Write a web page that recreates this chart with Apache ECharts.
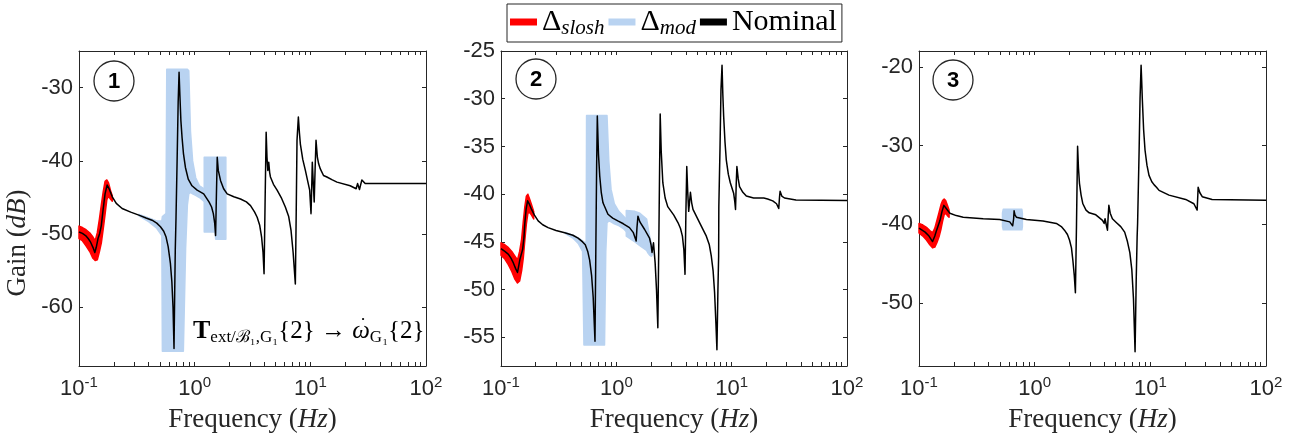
<!DOCTYPE html>
<html><head><meta charset="utf-8">
<script src="https://cdn.jsdelivr.net/npm/echarts@6/dist/echarts.min.js"></script>
<style>html,body{margin:0;padding:0;background:#fff}#c{width:1304px;height:439px}</style>
</head><body><div id="c"></div><script>
// ---------- tick labels ----------
const xTickLabels = [0.1, 1, 10, 100];
const xTicks = [0.1,0.2,0.3,0.4,0.5,0.6,0.7,0.8,0.9,1,2,3,4,5,6,7,8,9,10,20,30,40,50,60,70,80,90,100];
const yTicks1 = [-60, -50, -40, -30];
const yTicks2 = [-55, -50, -45, -40, -35, -30, -25];
const yTicks3 = [-50, -40, -30, -20];
const yRange1 = [-68, -25];
const yRange2 = [-58, -25];
const yRange3 = [-58, -18];

// ---------- panel 1 ----------
const nomF1 = [0.1,0.107,0.114,0.12,0.126,0.132,0.137,0.141,0.146,0.151,0.156,0.162,0.168,0.175,0.182,0.194,0.21,0.236,0.28,0.329,0.38,0.428,0.47,0.506,0.54,0.566,0.59,0.617,0.635,0.65,0.663,0.672,0.68,0.69,0.705,0.72,0.733,0.745,0.76,0.778,0.8,0.832,0.88,0.948,1.05,1.197,1.33,1.4,1.45,1.49,1.517,1.54,1.567,1.6,1.675,1.78,1.91,2.18,2.49,2.8,3.04,3.3,3.47,3.65,3.79,3.9,3.98,4.06,4.15,4.22,4.29,4.37,4.45,4.52,4.8,5.16,5.6,6.08,6.5,6.81,7.1,7.42,7.55,7.67,7.88,8.05,8.2,8.6,9.06,9.5,9.87,10.14,10.3,10.4,10.6,10.8,11.0,11.2,11.5,11.8,12.2,13.0,13.9,15.5,17.0,22.1,24.9,25.6,26.6,27.9,29.8,37.6,100];
const nomG1 = [-49.7,-49.9,-50.2,-50.6,-51.1,-51.8,-52.5,-51.8,-50.6,-49.9,-48.8,-46.5,-44.5,-43.3,-43.8,-44.9,-45.8,-46.5,-47.0,-47.4,-47.8,-48.1,-48.5,-49.0,-49.6,-50.4,-51.7,-54,-56.5,-60,-65.6,-58,-52,-47.7,-40,-32,-27.9,-31,-34.5,-36.8,-39.0,-40.9,-42.5,-43.4,-44.0,-44.5,-45.6,-46.3,-47.2,-48.5,-50.2,-45,-39.5,-41.3,-42.7,-43.8,-44.5,-44.9,-45.2,-45.6,-46.1,-47.0,-47.7,-48.8,-50.4,-52.5,-55.4,-46,-36.1,-39.5,-41.3,-40.2,-41.6,-42.2,-43.2,-44.0,-45.0,-46.3,-47.6,-49.5,-52.5,-56.8,-47,-37.2,-34.0,-36.2,-37.7,-39.8,-41.3,-42.8,-44.0,-47.2,-43,-40.2,-43,-45.6,-41,-37.2,-39.5,-40.4,-41.1,-42.0,-42.2,-42.6,-42.9,-43.4,-43.8,-43.1,-43.9,-42.6,-43.1,-43.1,-43.1];
const modF1a = [0.33,0.40,0.47,0.52,0.526,0.565,0.574,0.798,0.835,0.865,0.889,0.92,0.96,1.02,1.1,1.2,1.24];
const modHi1a = [-47.3,-47.8,-48.2,-48.2,-47.6,-47.2,-27.5,-27.5,-27.5,-27.5,-27.7,-36,-40,-42.3,-43.4,-43.8,-44];
const modLo1a = [-47.5,-48.3,-49.2,-50.2,-66,-66,-66,-66,-52,-46,-44.5,-44.3,-44.5,-44.7,-45,-45.5,-45.6];
const modF1b = [1.21,1.5,1.52,1.86];
const modHi1b = [-39.5,-39.5,-39.5,-39.5];
const modLo1b = [-49.7,-49.7,-50.7,-50.7];
const sloshF1 = [0.1,0.107,0.115,0.125,0.132,0.138,0.144,0.15,0.156,0.162,0.168,0.174,0.18,0.187,0.194];
const sloshHi1 = [-48.9,-49.1,-49.4,-49.9,-50.4,-50.9,-49.8,-48.0,-46.0,-44.2,-42.8,-42.6,-43.0,-44.0,-44.8];
const sloshLo1 = [-50.6,-50.9,-51.6,-52.5,-53.3,-53.6,-53.5,-52.4,-51.2,-49.3,-47.3,-45.3,-44.8,-45.2,-45.5];

// ---------- panel 2 ----------
const nomF2 = [0.1,0.108,0.116,0.122,0.128,0.134,0.139,0.143,0.146,0.154,0.158,0.161,0.165,0.17,0.177,0.184,0.195,0.21,0.23,0.256,0.3,0.357,0.42,0.466,0.51,0.538,0.565,0.587,0.61,0.63,0.653,0.665,0.675,0.684,0.7,0.718,0.74,0.766,0.846,0.93,1.03,1.15,1.30,1.4,1.486,1.51,1.54,1.6,1.76,1.94,2.0,2.04,2.10,2.17,2.23,2.29,2.35,2.40,2.45,2.53,2.65,2.79,2.90,3.15,3.43,3.6,3.74,3.85,3.94,4.01,4.08,4.16,4.24,4.39,4.5,4.62,5.28,6.03,6.4,6.66,6.9,7.11,7.3,7.45,7.6,7.71,7.74,7.82,7.92,8.08,8.25,8.38,8.52,8.75,8.98,9.35,9.73,10.4,10.65,10.8,10.95,11.1,11.4,11.7,12.5,13.4,15.5,19.0,19.5,20.5,22.7,24.5,25.6,26.0,26.3,27.2,28.7,36.1,100];
const nomG2 = [-45.7,-46.0,-46.3,-46.7,-47.2,-47.8,-48.2,-47.4,-46.8,-45.8,-44.6,-43.0,-41.6,-40.7,-41.1,-41.6,-42.2,-42.8,-43.2,-43.5,-43.8,-44.05,-44.3,-44.6,-45.0,-45.3,-46.0,-46.9,-48.5,-50.8,-55.4,-45,-37,-31.8,-35.8,-38.1,-39.8,-40.9,-42.1,-42.5,-42.8,-43.1,-43.5,-44.0,-44.9,-43.5,-42.3,-42.9,-43.7,-44.6,-45.3,-46.1,-45.1,-47.2,-50,-54.0,-42,-31.6,-35.5,-38.8,-40.4,-41.3,-41.4,-42.2,-43.0,-43.6,-44.4,-45.8,-48.4,-42,-37.1,-39.8,-41.8,-39.8,-40.9,-41.6,-43.0,-44.4,-45.3,-46.5,-48.0,-50.3,-53.5,-56.3,-50,-46.5,-41.3,-41.3,-35.3,-29,-26.5,-29.5,-31.8,-34.5,-36.4,-37.9,-38.8,-39.9,-40.8,-41.6,-39,-37.1,-38.4,-39.2,-39.8,-40.2,-40.4,-40.4,-40.3,-40.5,-40.7,-41.0,-41.5,-40.3,-39.7,-40.2,-40.4,-40.6,-40.65];
const modF2a = [0.36,0.42,0.47,0.51,0.524,0.548,0.552,0.79,0.81,0.83,0.86,0.9,0.96,1.05,1.15,1.24];
const modHi2a = [-44.0,-44.3,-44.6,-44.9,-45.0,-45.1,-31.75,-31.75,-31.75,-31.75,-36.5,-39.5,-41.0,-41.8,-42.3,-42.7];
const modLo2a = [-44.1,-44.6,-45.2,-46.0,-55.8,-55.8,-55.8,-55.8,-46,-43,-42.8,-42.9,-43.1,-43.3,-43.6,-44.0];
const modF2b = [1.22,1.45,1.6,1.83,1.89,1.95,2.02,2.06];
const modHi2b = [-41.7,-41.8,-42.0,-42.6,-43.6,-44.5,-45.3,-45.8];
const modLo2b = [-44.4,-45.0,-45.4,-45.9,-46.2,-46.4,-46.5,-46.3];
const sloshF2 = [0.1,0.108,0.116,0.124,0.132,0.139,0.145,0.151,0.156,0.161,0.166,0.171,0.177,0.184,0.192];
const sloshHi2 = [-45.1,-45.3,-45.6,-46.0,-46.5,-46.9,-46.0,-44.7,-42.9,-41.3,-40.2,-40.0,-40.5,-41.1,-41.8];
const sloshLo2 = [-46.4,-46.8,-47.4,-48.1,-48.9,-49.3,-49.1,-48.0,-46.7,-44.8,-43.1,-42.0,-41.9,-42.2,-42.6];

// ---------- panel 3 ----------
const nomF3 = [0.1,0.113,0.122,0.131,0.137,0.142,0.152,0.158,0.164,0.172,0.185,0.21,0.241,0.359,0.499,0.609,0.645,0.651,0.658,0.664,0.675,0.695,0.848,1.18,1.54,1.7,1.81,1.92,2.0,2.08,2.14,2.2,2.25,2.3,2.35,2.39,2.44,2.52,2.61,2.78,2.96,3.38,3.86,3.99,4.06,4.15,4.26,4.32,4.38,4.5,4.70,5.1,5.55,6.0,6.34,6.65,6.92,7.15,7.38,7.55,7.69,7.76,8.0,8.15,8.32,8.42,8.53,8.75,9.0,9.35,9.74,10.3,10.8,11.0,11.3,11.9,14.5,20.2,23.8,25.4,25.7,25.9,26.8,28.1,34.2,100];
const nomG3 = [-40.5,-41.0,-41.5,-42.2,-41.5,-40.75,-39.5,-38.4,-37.6,-38.0,-38.6,-38.9,-39.1,-39.3,-39.4,-39.7,-40.2,-40.3,-39.3,-38.3,-38.8,-39.1,-39.4,-39.6,-39.9,-40.3,-40.75,-41.3,-42.0,-43.0,-44.6,-46.5,-48.7,-40,-30.1,-32.8,-34.8,-36.3,-37.4,-38.2,-38.55,-38.8,-39.5,-39.9,-39.3,-40.0,-40.75,-39,-37.6,-38.6,-39.3,-39.8,-40.3,-41.0,-42.2,-43.6,-45.8,-49.5,-56.2,-47,-41.6,-39.9,-30.6,-24,-19.8,-21.8,-24.2,-28,-30.6,-32.5,-33.8,-34.6,-35.0,-34.8,-35.3,-35.7,-36.3,-36.85,-37.4,-38.2,-36.5,-35.3,-36.0,-36.5,-36.85,-36.95];
const modF3 = [0.527,0.535,0.775,0.783];
const modHi3 = [-38.6,-38.1,-38.1,-38.6];
const modLo3 = [-40.3,-40.7,-40.7,-40.3];
const sloshF3 = [0.1,0.108,0.116,0.124,0.131,0.137,0.143,0.149,0.155,0.16,0.165,0.17,0.176,0.182];
const sloshHi3 = [-39.9,-40.1,-40.4,-40.8,-41.1,-40.5,-39.5,-38.5,-37.5,-37.0,-36.8,-37.0,-37.6,-38.2];
const sloshLo3 = [-41.1,-41.5,-42.0,-42.6,-43.0,-42.9,-42.3,-41.6,-40.6,-39.6,-38.8,-38.6,-38.9,-39.1];

// ---------- styling ----------
const SANS = '"Liberation Sans", Arial, Helvetica, sans-serif';
const SERIF = '"Liberation Serif", "DejaVu Serif", serif';
const AX = '#262626';
const RED = '#ff0000';
const BLUE = '#b9d3f1';
const grids = [
  {left: 79, top: 51, width: 347, height: 315},
  {left: 501, top: 51, width: 346, height: 315},
  {left: 919, top: 51, width: 347, height: 315}
];
const yRanges = [yRange1, yRange2, yRange3];
const yTicks = [yTicks1, yTicks2, yTicks3];

const xAxis = [], yAxis = [];
grids.forEach((g, i) => {
  const xb = {type: 'log', logBase: 10, min: 0.1, max: 100, gridIndex: i,
    splitLine: {show: false},
    axisLine: {show: true, onZero: false, lineStyle: {color: AX, width: 1}},
    axisTick: {show: true, inside: true, length: 4, customValues: xTicks, lineStyle: {color: AX, width: 1}}};
  xAxis.push(Object.assign({}, xb, {position: 'bottom',
    axisLabel: {show: true, customValues: xTickLabels, margin: 9, color: AX, fontFamily: SANS, fontSize: 22,
      formatter: v => '10{sup|' + Math.round(Math.log10(v)) + '}',
      rich: {sup: {fontSize: 15, fontFamily: SANS, color: AX, padding: [0, 0, 13, 0]}}},
    name: 'Frequency ({i|Hz})', nameLocation: 'middle', nameGap: 40,
    nameTextStyle: {fontFamily: SERIF, fontSize: 27, color: AX,
      rich: {i: {fontFamily: SERIF, fontSize: 27, fontStyle: 'italic', color: AX}}}}));
  xAxis.push(Object.assign({}, xb, {position: 'top', axisLabel: {show: false}}));
  const yb = {type: 'value', gridIndex: i, min: yRanges[i][0], max: yRanges[i][1],
    splitLine: {show: false},
    axisLine: {show: true, onZero: false, lineStyle: {color: AX, width: 1}},
    axisTick: {show: true, inside: true, length: 4, customValues: yTicks[i], lineStyle: {color: AX, width: 1}}};
  yAxis.push(Object.assign({}, yb, {position: 'left',
    axisLabel: {show: true, customValues: yTicks[i], margin: 6, color: AX, fontFamily: SANS, fontSize: 22}}));
  yAxis.push(Object.assign({}, yb, {position: 'right', axisLabel: {show: false}}));
});

function bandSeries(name, color, gi, F, Hi, Lo, z) {
  return {
    name, type: 'custom', xAxisIndex: 2 * gi, yAxisIndex: 2 * gi, z,
    itemStyle: {color}, silent: true,
    data: [[F[0], Hi[0]]],
    encode: {x: 0, y: 1},
    renderItem: (params, api) => {
      const pts = [];
      for (let k = 0; k < F.length; k++) pts.push(api.coord([F[k], Hi[k]]));
      for (let k = F.length - 1; k >= 0; k--) pts.push(api.coord([F[k], Lo[k]]));
      return {type: 'polygon', shape: {points: pts}, style: {fill: color, stroke: color, lineWidth: 1.5, lineJoin: 'round'}};
    }
  };
}
function nomSeries(gi, F, G) {
  return {name: 'Nominal', type: 'line', xAxisIndex: 2 * gi, yAxisIndex: 2 * gi, z: 5,
    showSymbol: false, symbol: 'none', silent: true, itemStyle: {color: '#000'},
    lineStyle: {color: '#000', width: 1.5, join: 'round'},
    data: F.map((f, k) => [f, G[k]])};
}

const series = [
  bandSeries('mod', BLUE, 0, modF1a, modHi1a, modLo1a, 2),
  bandSeries('mod', BLUE, 0, modF1b, modHi1b, modLo1b, 2),
  bandSeries('slosh', RED, 0, sloshF1, sloshHi1, sloshLo1, 3),
  nomSeries(0, nomF1, nomG1),
  bandSeries('mod', BLUE, 1, modF2a, modHi2a, modLo2a, 2),
  bandSeries('mod', BLUE, 1, modF2b, modHi2b, modLo2b, 2),
  bandSeries('slosh', RED, 1, sloshF2, sloshHi2, sloshLo2, 3),
  nomSeries(1, nomF2, nomG2),
  bandSeries('mod', BLUE, 2, modF3, modHi3, modLo3, 2),
  bandSeries('slosh', RED, 2, sloshF3, sloshHi3, sloshLo3, 3),
  nomSeries(2, nomF3, nomG3)
];

const circles = [[114, 81, '1'], [536, 79, '2'], [953, 80, '3']];
const graphic = [];
circles.forEach(c => {
  graphic.push({type: 'circle', shape: {cx: c[0], cy: c[1], r: 20}, style: {fill: '#fff', stroke: AX, lineWidth: 1.3}, z: 10});
  graphic.push({type: 'text', x: c[0], y: c[1] + 1, style: {text: c[2], font: 'bold 22px ' + SANS, fill: '#000', align: 'center', verticalAlign: 'middle'}, z: 11});
});
// y-axis title
graphic.push({type: 'text', x: 18, y: 243, rotation: Math.PI / 2, z: 11, style: {
  text: 'Gain ({i|dB})', font: '27px ' + SERIF, fill: AX, align: 'center', verticalAlign: 'middle',
  rich: {i: {fontFamily: SERIF, fontSize: 27, fontStyle: 'italic', fill: AX}}}});
// transfer annotation
graphic.push({type: 'text', x: 193, y: 331, z: 11, style: {
  text: '{b|T}{s|ext/ℬ₁,G₁}{2} → {w|ω}{s|G₁}{2}',
  font: '25px ' + SERIF, fill: '#000', align: 'left', verticalAlign: 'middle',
  rich: {
    b: {fontFamily: SERIF, fontSize: 26, fontWeight: 'bold', fill: '#000'},
    s: {fontFamily: SERIF, fontSize: 17, fill: '#000', padding: [13, 0, 0, 0]},
    w: {fontFamily: SERIF, fontSize: 25, fontStyle: 'italic', fill: '#000'}
  }}});
graphic.push({type: 'text', x: 363, y: 320, z: 12, style: {text: '•', font: '9px ' + SERIF, fill: '#000', align: 'center', verticalAlign: 'middle'}});

const legendNames = {slosh: '{d|Δ}{s|slosh}', mod: '{d|Δ}{s|mod}', Nominal: '{d|Nominal}'};
const option = {
  animation: false,
  backgroundColor: '#fff',
  grid: grids,
  xAxis, yAxis, series, graphic,
  legend: {
    data: [{name: 'slosh', itemStyle: {color: RED}}, {name: 'mod', itemStyle: {color: BLUE}}, {name: 'Nominal', itemStyle: {color: '#000'}}],
    left: 507, top: 4, icon: 'rect', itemWidth: 27, itemHeight: 7, itemGap: 4,
    padding: [3, 5, 3, 3],
    borderColor: AX, borderWidth: 1, backgroundColor: '#fff',
    selectedMode: false,
    formatter: n => legendNames[n],
    textStyle: {fontFamily: SERIF, fontSize: 29, color: '#000',
      rich: {d: {fontFamily: SERIF, fontSize: 30, color: '#000'},
             s: {fontFamily: SERIF, fontSize: 21, fontStyle: 'italic', color: '#000', padding: [13, 0, 0, 0]}}}
  }
};
const chart = echarts.init(document.getElementById('c'), null, {renderer: 'canvas'});
chart.setOption(option);
</script></body></html>
